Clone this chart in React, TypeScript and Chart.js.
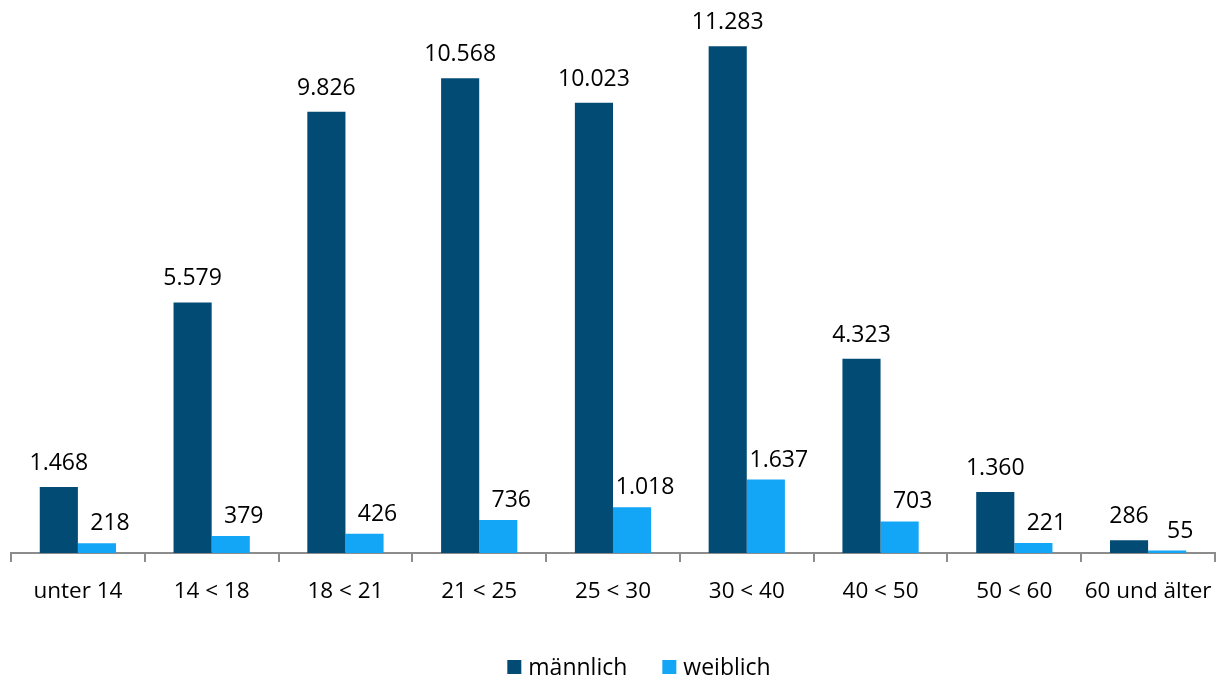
import React, { useEffect, useRef } from "react";
import { Chart, registerables } from "chart.js";

Chart.register(...registerables);

const categories = ["unter 14", "14 < 18", "18 < 21", "21 < 25", "25 < 30", "30 < 40", "40 < 50", "50 < 60", "60 und älter"];
const maennlich = [1468, 5579, 9826, 10568, 10023, 11283, 4323, 1360, 286];
const weiblich = [218, 379, 426, 736, 1018, 1637, 703, 221, 55];
const seriesNames = ["männlich", "weiblich"];
const seriesColors = ["#024b75", "#14a6f6"];

const FONT = "'Open Sans', 'Noto Sans', sans-serif";

// per-series label offsets (dx, gap above bar)
const labelOffsets = [
  { dx: 0, gap: 12 },
  { dx: 13, gap: 8 },
];

function fmt(v: number): string {
  return String(v).replace(/\B(?=(\d{3})+(?!\d))/g, ".");
}

const labelPlugin = {
  id: "valueLabels",
  afterDatasetsDraw(chart: any) {
    const ctx = chart.ctx;
    ctx.save();
    ctx.font = `23px ${FONT}`;
    ctx.fillStyle = "#000000";
    ctx.textAlign = "center";
    ctx.textBaseline = "bottom";
    chart.data.datasets.forEach((ds: any, di: number) => {
      const meta = chart.getDatasetMeta(di);
      const off = labelOffsets[di] || { dx: 0, gap: 8 };
      meta.data.forEach((bar: any, i: number) => {
        ctx.fillText(fmt(ds.data[i]), bar.x + off.dx, bar.y - off.gap);
      });
    });
    ctx.restore();
  },
};

const legendPlugin = {
  id: "customLegend",
  afterDraw(chart: any) {
    const ctx = chart.ctx;
    const datasets = chart.data.datasets;
    ctx.save();
    ctx.font = `23px ${FONT}`;
    ctx.textBaseline = "middle";
    ctx.textAlign = "left";
    const box = 14;
    const gap = 7;
    const itemGap = 35;
    const widths = datasets.map((d: any) => ctx.measureText(d.label).width);
    const total = widths.reduce((a: number, w: number) => a + box + gap + w, 0) + itemGap * (datasets.length - 1);
    const cx = (chart.chartArea.left + chart.chartArea.right) / 2 + 26;
    let x = cx - total / 2;
    const y = chart.height - 11;
    datasets.forEach((d: any, i: number) => {
      ctx.fillStyle = d.backgroundColor;
      ctx.fillRect(x, y - box / 2, box, box);
      ctx.fillStyle = "#000000";
      ctx.fillText(d.label, x + box + gap, y + 1);
      x += box + gap + widths[i] + itemGap;
    });
    ctx.restore();
  },
};

export default function App() {
  const ref = useRef<HTMLCanvasElement | null>(null);
  useEffect(() => {
    document.body.style.margin = "0";
    const chart = new Chart(ref.current!, {
      type: "bar",
      data: {
        labels: categories,
        datasets: [
          { label: seriesNames[0], data: maennlich, backgroundColor: seriesColors[0] },
          { label: seriesNames[1], data: weiblich, backgroundColor: seriesColors[1] },
        ],
      },
      options: {
        animation: false,
        responsive: true,
        maintainAspectRatio: false,
        layout: { padding: { left: 11, right: 6, top: 14, bottom: 57 } },
        datasets: { bar: { categoryPercentage: 0.57, barPercentage: 1 } },
        scales: {
          x: {
            offset: true,
            afterFit: (s: any) => {
              s.paddingLeft = 0;
              s.paddingRight = 0;
            },
            border: { display: true, color: "#8c8c8c", width: 2 },
            grid: { display: true, offset: true, drawOnChartArea: false, drawTicks: true, tickLength: 9, color: "#8c8c8c", lineWidth: 2 },
            ticks: { color: "#000000", font: { family: FONT, size: 22.5 }, padding: 16, maxRotation: 0 },
          },
          y: { display: false, min: 0, max: 12000 },
        },
        plugins: {
          legend: { display: false },
          tooltip: { enabled: false },
        },
      },
      plugins: [labelPlugin, legendPlugin],
    });
    return () => chart.destroy();
  }, []);
  return (
    <div style={{ width: 1221, height: 678, position: "relative" }}>
      <canvas ref={ref} />
    </div>
  );
}
